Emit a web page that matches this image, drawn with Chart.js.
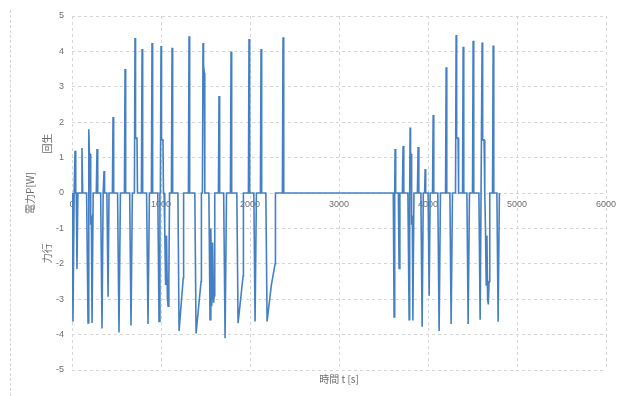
<!DOCTYPE html>
<html>
<head>
<meta charset="utf-8">
<script src="https://cdn.jsdelivr.net/npm/chart.js@4/dist/chart.umd.min.js"></script>
<style>
    html, body { margin: 0; padding: 0; background: #fff; }
    #wrap { position: relative; width: 625px; height: 396px; }
    #frame { position: absolute; left: 10px; top: 10px; width: 0; height: 386px; border-left: 1px dashed #d4d4d4; }
    canvas { position: absolute; left: 0; top: 0; }
</style>
</head>
<body>
<div id="wrap">
    <div id="frame"></div>
    <canvas id="chart-potencia" width="625" height="396"></canvas>
</div>
<script>
// Datos: tiempo [s] y potencia [W]
const timeS = [
    0, 11, 24, 28, 34, 42, 48, 56, 66, 104, 112, 120,
    164, 180, 186, 191, 196, 204, 208, 212, 218, 225, 238,
    273, 281, 289, 322, 337, 350, 354, 360, 366, 392, 405, 416,
    454, 461, 468, 512, 528, 544, 589, 596, 603, 648, 663, 678,
    701, 708, 714, 730, 736, 780, 787, 794, 838, 854, 870,
    892, 899, 906, 964, 978, 988, 993, 1000, 1006, 1022, 1028,
    1034, 1042, 1052, 1062, 1072, 1080, 1088, 1096, 1117, 1124, 1131,
    1190, 1203, 1250, 1254, 1308, 1315, 1322, 1380, 1394, 1450, 1454,
    1465, 1472, 1478, 1486, 1492,
    1538, 1551, 1560, 1570, 1580, 1590, 1598, 1604, 1645, 1652, 1659,
    1704, 1720, 1736, 1780, 1787, 1794, 1852, 1866, 1922, 1926,
    1982, 1989, 1996, 2043, 2057, 2072, 2117, 2124, 2131,
    2178, 2192, 2240, 2282, 2286, 2364, 2371, 2376, 2382,
    3600,
    3610, 3619, 3626, 3630, 3637, 3667, 3675, 3684, 3712, 3720, 3728,
    3774, 3788, 3794, 3799, 3804, 3810, 3814, 3818, 3824, 3830, 3842,
    3881, 3889, 3897, 3920, 3934, 3947, 3962, 3968, 3974, 4001, 4013, 4024,
    4051, 4058, 4065, 4110, 4125, 4140, 4197, 4204, 4211, 4246, 4260, 4275,
    4309, 4316, 4322, 4338, 4344, 4388, 4395, 4402, 4437, 4451, 4466,
    4500, 4507, 4514, 4572, 4586, 4596, 4601, 4608, 4614, 4630, 4636,
    4640, 4646, 4654, 4662, 4670, 4678, 4686, 4694,
    4725, 4732, 4739, 4774, 4788, 4802
];

const powerW = [
    0, -3.64, 0, 0, 1.19, 0, 0, -2.15, 0, 0, 1.27, 0,
    0, -3.67, 0, 1.8, 1.1, 1.1, 0, -0.9, -0.8, -3.67, 0,
    0, 1.24, 0, 0, -3.83, 0, 0, 0.62, 0, 0, -2.93, 0,
    0, 2.15, 0, 0, -3.94, 0, 0, 3.5, 0, 0, -3.74, 0,
    0, 4.38, 1.55, 1.55, 0, 0, 4.07, 0, 0, -3.7, 0,
    0, 4.24, 0, 0, -3.63, 0, 0, 4.15, 1.5, 1.5, 0,
    0, -1.0, -2.6, -1.2, -3.0, -3.2, -2.5, 0, 0, 4.1, 0,
    0, -3.9, -2.4, 0, 0, 4.43, 0, 0, -3.97, -2.5, 0,
    0, 4.24, 3.6, 3.4, 0,
    0, -3.58, -1.0, -3.2, -1.4, -3.1, -2.9, 0, 0, 2.74, 0,
    0, -4.1, 0, 0, 4.0, 0, 0, -3.68, -2.35, 0,
    0, 4.35, 0, 0, -3.63, 0, 0, 4.07, 0,
    0, -3.63, -2.6, -2.0, 0, 0, 4.4, 1.2, 0,
    0,
    0, -3.5, 0, 1.24, 0, 0, -2.13, 0, 0, 1.33, 0,
    0, -3.58, 0, 1.85, 1.1, 1.1, 0, -0.9, -0.8, -3.6, 0,
    0, 1.3, 0, 0, -3.78, 0, 0, 0.68, 0, 0, -2.9, 0,
    0, 2.2, 0, 0, -3.9, 0, 0, 3.55, 0, 0, -3.7, 0,
    0, 4.46, 1.55, 1.55, 0, 0, 4.13, 0, 0, -3.7, 0,
    0, 4.3, 0, 0, -3.58, 0, 0, 4.25, 1.5, 1.5, 0,
    0, -1.0, -2.6, -1.2, -3.0, -3.15, -2.5, 0,
    0, 4.17, 0, 0, -3.64, 0
];

const xTickValues = [0, 1000, 2000, 3000, 4000, 5000, 6000];
const yTickValues = [-5, -4, -3, -2, -1, 0, 1, 2, 3, 4, 5];

const tituloX = '時間 t [s]';
const tituloY = '電力P[W]';
const etiquetaRegen = '回生';
const etiquetaTraccion = '力行';

const fuenteCJK = '"Noto Sans CJK JP", "Noto Sans", sans-serif';
const colorTexto = '#6e6e6e';
const colorGrid = '#d6d6d6';

// Etiquetas 回生 / 力行 junto al eje Y
const etiquetasLado = {
    id: 'etiquetasLado',
    afterDraw(chart) {
        const ctx = chart.ctx;
        const y = chart.scales.y;
        ctx.save();
        ctx.fillStyle = colorTexto;
        ctx.font = '10px ' + fuenteCJK;
        ctx.textAlign = 'center';
        ctx.textBaseline = 'middle';
        [[etiquetaRegen, 1.4], [etiquetaTraccion, -1.7]].forEach(([txt, v]) => {
            ctx.save();
            ctx.translate(47, y.getPixelForValue(v));
            ctx.rotate(-Math.PI / 2);
            ctx.fillText(txt, 0, 0);
            ctx.restore();
        });
        ctx.restore();
    }
};

const puntos = timeS.map((t, i) => ({ x: t, y: powerW[i] }));

new Chart(document.getElementById('chart-potencia'), {
    type: 'line',
    data: {
        datasets: [{
            data: puntos,
            borderColor: '#4580c2',
            borderWidth: 1.6,
            pointRadius: 0,
            tension: 0,
            xAxisID: 'x',
            yAxisID: 'y'
        }]
    },
    options: {
        responsive: false,
        animation: false,
        events: [],
        layout: { padding: { left: 0, right: 19, top: 16, bottom: 0 } },
        plugins: {
            legend: { display: false },
            tooltip: { enabled: false }
        },
        scales: {
            x: {
                type: 'linear',
                position: { y: 0 },
                min: 0,
                max: 6000,
                afterBuildTicks: (s) => { s.ticks = xTickValues.map(v => ({ value: v })); },
                afterFit: (s) => { s.height = 0; },
                grid: { color: colorGrid, drawTicks: false, lineWidth: 1 },
                border: { display: false, dash: [3, 3] },
                ticks: {
                    autoSkip: false,
                    maxRotation: 0,
                    padding: 6,
                    color: colorTexto,
                    font: { family: 'Liberation Sans', size: 9 },
                    callback: (v) => String(v)
                }
            },
            x2: {
                type: 'linear',
                position: 'bottom',
                min: 0,
                max: 6000,
                afterFit: (s) => { s.height = 26; },
                grid: { display: false },
                border: { display: false },
                ticks: { display: false },
                title: {
                    display: true,
                    text: tituloX,
                    color: colorTexto,
                    padding: { top: 0, bottom: 11 },
                    font: { family: fuenteCJK, size: 10 }
                }
            },
            y: {
                type: 'linear',
                min: -5,
                max: 5,
                afterBuildTicks: (s) => { s.ticks = yTickValues.map(v => ({ value: v })); },
                afterFit: (s) => { s.width = 72; },
                grid: { color: colorGrid, drawTicks: false, lineWidth: 1 },
                border: { display: false, dash: [3, 3] },
                ticks: {
                    padding: 8,
                    color: colorTexto,
                    font: { family: 'Liberation Sans', size: 9 },
                    callback: (v) => String(v)
                },
                title: {
                    display: true,
                    text: tituloY,
                    color: colorTexto,
                    padding: { top: 24, bottom: 0 },
                    font: { family: fuenteCJK, size: 10 }
                }
            }
        }
    },
    plugins: [etiquetasLado]
});
</script>
</body>
</html>
